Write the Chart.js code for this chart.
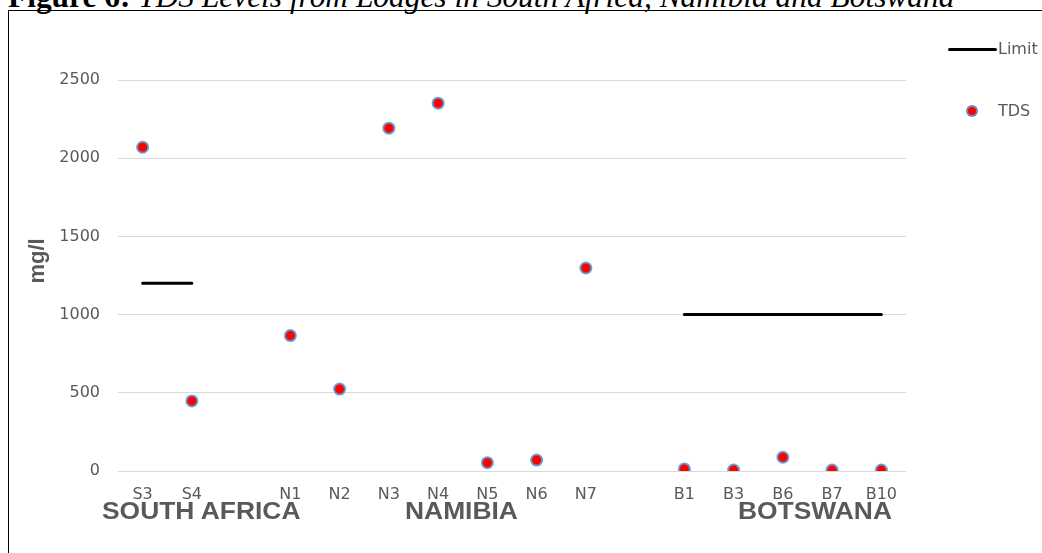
<!DOCTYPE html>
<html>
<head>
<meta charset="utf-8">
<script src="https://cdn.jsdelivr.net/npm/chart.js@4"></script>
<style>
  body { margin: 0; background: #fff; width: 1042px; height: 553px; overflow: hidden; position: relative; }
  #frame { position: absolute; left: 8px; top: 10px; width: 1100px; height: 600px;
           border-left: 1.5px solid #000; border-top: 1.5px solid #000; }
  #title { position: absolute; left: 8px; top: -19.5px; font-family: "Liberation Serif", serif;
           font-size: 31.4px; line-height: 31px; white-space: nowrap; color: #000; }
  #chartbox { position: absolute; left: 0; top: 0; width: 1042px; height: 553px; }
  .group { position: absolute; font-family: "Liberation Sans", Arial, sans-serif; font-weight: bold;
           font-size: 24px; line-height: 24px; color: #595959; white-space: nowrap;
           transform: scaleX(1.1); transform-origin: left top; }
  #ytitle { position: absolute; width: 80px; height: 26px; left: -3px; top: 248px; text-align: center;
            font-family: "Liberation Sans", Arial, sans-serif; font-weight: bold; font-size: 22px;
            line-height: 26px; color: #595959; transform: rotate(-90deg); }
  .legtext { position: absolute; font-family: "DejaVu Sans", sans-serif; font-size: 16px;
             line-height: 20px; color: #595959; white-space: nowrap; }
  #legline { position: absolute; left: 948px; top: 47.5px; width: 49px; height: 3px; background: #000; border-radius: 1.5px; }
  #legdot { position: absolute; left: 966px; top: 105px; width: 8px; height: 8px; border-radius: 50%;
            background: #ff0000; border: 2px solid rgba(91,155,213,0.9); }
</style>
</head>
<body>
<div id="title"><b>Figure 6:</b><i> TDS Levels from Lodges in South Africa, Namibia and Botswana</i></div>
<div id="frame"></div>
<div id="chartbox"><canvas id="chart" width="1042" height="553"></canvas></div>
<div id="ytitle">mg/l</div>
<div id="legline"></div>
<div class="legtext" style="left:998px; top:39px;">Limit</div>
<div id="legdot"></div>
<div class="legtext" style="left:998px; top:101px;">TDS</div>
<script>
// sites, blanks separate the countries
const categories = ["S3", "S4", "", "N1", "N2", "N3", "N4", "N5", "N6", "N7", "", "B1", "B3", "B6", "B7", "B10"];
const tdsValues = [2070, 448, null, 866, 524, 2192, 2352, 53, 70, 1298, null, 13, 6, 88, 6, 6];
const limitValues = [1200, 1200, null, null, null, null, null, null, null, null, null, 1000, 1000, 1000, 1000, 1000];
const yTicks = [0, 500, 1000, 1500, 2000, 2500];
const groupNames = ["SOUTH AFRICA", "NAMIBIA", "BOTSWANA"];
const groupLeft = [102, 405, 738];

// country labels under the axis
groupNames.forEach((name, i) => {
  let d = document.createElement("div");
  d.className = "group";
  d.style.left = groupLeft[i] + "px";
  d.style.top = "498.7px";
  d.innerText = name;
  document.body.appendChild(d);
});

const tickFont = { family: "'DejaVu Sans', sans-serif", size: 16 };

new Chart(document.getElementById("chart"), {
  type: "line",
  data: {
    labels: categories,
    datasets: [
      {
        label: "Limit",
        data: limitValues,
        borderColor: "#000",
        borderWidth: 3,
        borderCapStyle: "round",
        pointRadius: 0,
        spanGaps: false,
        fill: false,
      },
      {
        label: "TDS",
        data: tdsValues,
        showLine: false,
        pointRadius: 5.5,
        pointBorderWidth: 2,
        pointBackgroundColor: "#ff0000",
        pointBorderColor: "rgba(91,155,213,0.9)",
      },
    ],
  },
  options: {
    responsive: false,
    animation: false,
    layout: { padding: { left: 0, right: 136, top: 80, bottom: 0 } },
    plugins: { legend: { display: false }, tooltip: { enabled: false } },
    scales: {
      x: {
        offset: true,
        grid: { display: false, drawTicks: false, offset: true },
        border: { display: false },
        ticks: { color: "#595959", font: tickFont, padding: 14, autoSkip: false, maxRotation: 0 },
        afterFit(scale) { scale.height = 82; },
      },
      y: {
        min: yTicks[0],
        max: yTicks[yTicks.length - 1],
        afterBuildTicks(scale) { scale.ticks = yTicks.map((v) => ({ value: v })); },
        grid: { color: "#d9d9d9", lineWidth: 1, drawTicks: false },
        border: { display: false },
        ticks: { color: "#595959", font: tickFont, padding: 18, callback: (v) => String(v) },
        afterFit(scale) { scale.width = 118; },
      },
    },
  },
});
</script>
</body>
</html>
